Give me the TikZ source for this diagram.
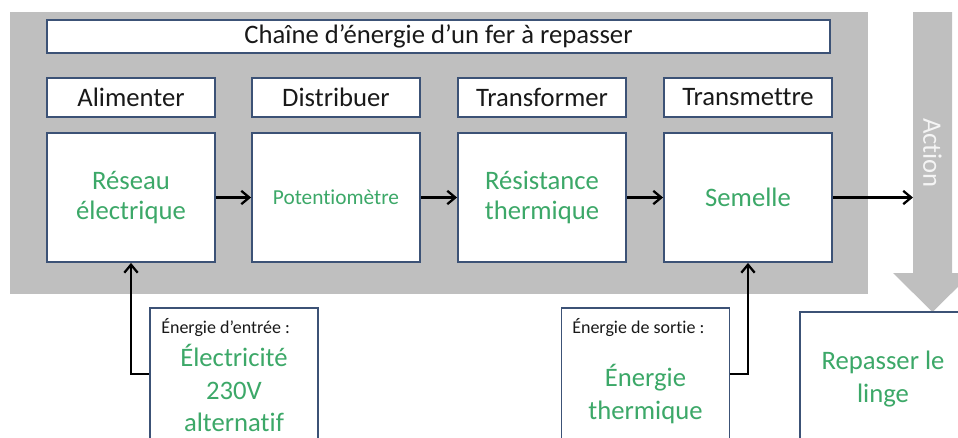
\documentclass[tikz,border=0pt]{standalone}
\usepackage{fontspec}
\setmainfont{Carlito}[Ligatures=NoCommon]
\usetikzlibrary{arrows.meta}
\definecolor{bordure}{RGB}{60,82,118}
\definecolor{vertfer}{RGB}{60,168,104}
\definecolor{grisfond}{RGB}{191,191,191}
\definecolor{texte}{RGB}{25,25,25}

\begin{document}
\begin{tikzpicture}[x=0.75pt, y=-0.75pt,
  boite/.style={rectangle, draw=bordure, line width=1.4pt, fill=white, inner sep=0pt, text=texte},
  entete/.style={boite, minimum width=126pt, minimum height=29.25pt, font=\fontsize{20}{24}\selectfont},
  bloc/.style={boite, minimum width=126pt, minimum height=96.75pt, align=center, text=vertfer, font=\fontsize{20}{22.5}\selectfont},
  energie/.style={boite, minimum width=126pt, minimum height=99pt},
  vert/.style={align=center, text=vertfer, font=\fontsize{20}{24.4}\selectfont},
  petit/.style={anchor=north west, inner sep=0pt, text=texte, font=\fontsize{13.5}{16}\selectfont},
  fleche/.style={-{Straight Barb[length=6pt, width=10pt]}, line width=1.7pt, draw=black}]

\useasboundingbox (0,0) rectangle (958,437);

% fond gris de la chaine
\fill[grisfond] (10,12) rectangle (868,294);

% fleche Action
\fill[grisfond] (913,12) -- (952,12) -- (952,273) -- (972,273) -- (932.5,312) -- (893,273) -- (913,273) -- cycle;
\node [rotate=-90, text=white!92!gray, font=\fontsize{20}{24}\selectfont] (action) at (932.5,153) {Action};
\coordinate (actionin) at (913,197.5);

\node [boite, minimum width=587.25pt, minimum height=24.75pt, font=\fontsize{20}{24}\selectfont] (titre) at (438.5,36.5) {Chaîne d’énergie d’un fer à repasser};

\node [entete] (alim) at (131,97.5) {Alimenter};
\node [entete] (distrib) at (336,97.5) {Distribuer};
\node [entete] (transfo) at (542,97.5) {Transformer};
\node [entete] (transm) at (748,97.5) {Transmettre};

\node [bloc] (reseau) at (131,197.5) {Réseau\\électrique};
\node [bloc, font=\fontsize{16}{20}\selectfont] (potentio) at (336,197.5) {Potentiomètre};
\node [bloc] (resist) at (542,197.5) {Résistance\\thermique};
\node [bloc] (semelle) at (748,197.5) {Semelle};

\node [energie] (entree) at (234,374) {};
\node [petit] (lblentree) at (161,318) {Énergie d’entrée :};
\node [vert] (elec) at (234,388) {Électricité\\230V\\alternatif};

\node [energie] (sortie) at (645.5,374) {};
\node [petit] (lblsortie) at (572,318) {Énergie de sortie :};
\node [vert] (therm) at (645.5,394) {Énergie\\thermique};

\node [energie, minimum height=96pt] (repasser) at (884,376) {};
\node [vert] (linge) at (883,379) {Repasser le\\linge};

\draw [fleche] (reseau) -- (potentio);
\draw [fleche] (potentio) -- (resist);
\draw [fleche] (resist) -- (semelle);
\draw [fleche] (semelle) -- (actionin);
\draw [fleche] (entree.west) -| (reseau.south);
\draw [fleche] (sortie.east) -| (semelle.south);

\end{tikzpicture}
\end{document}
